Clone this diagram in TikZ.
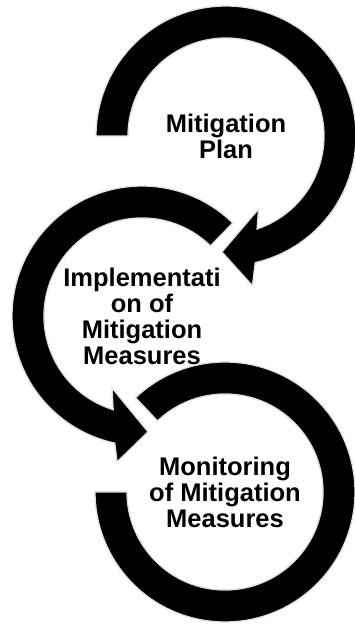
\documentclass[tikz,border=0pt]{standalone}
\usepackage{fontspec}
\setmainfont{Liberation Sans}
\usetikzlibrary{positioning}
\tikzstyle{ring} = [fill=black,
                   draw=black!12,
                   line width=1.3pt,
                   line join=miter]
\tikzstyle{stage} = [align=center,
                    inner sep=0pt,
                    font=\bfseries\fontsize{25.5}{26}\selectfont]
\tikzstyle{flow} = [x=1pt,
                   y=1pt,
                   on grid]

\begin{document}
\begin{tikzpicture}[flow]
    \useasboundingbox (0,0) rectangle (355,626);
    \node (0) at (226,490) [stage] {Mitigation\\Plan};
    \node (1) [below left =180pt and 84pt of 0] [stage] {Implementati\\on of\\Mitigation\\Measures};
    \node (2) [below right =176pt and 83pt of 1] [stage] {Monitoring\\of Mitigation\\Measures};
    \draw[ring, shift={(0.center)}]
      (180:130) arc[start angle=180, end angle=-77, radius=130]
      -- (-80:152) -- (-92:116) -- (-66:80)
      -- (-71.5:98) arc[start angle=-71.5, end angle=180, radius=98] -- cycle;
    \draw[ring, shift={(1.center)}]
      (45.7:130) arc[start angle=45.7, end angle=257.9, radius=130]
      -- (260.3:148) -- (273:116) -- (247.4:78)
      -- (252.9:98) arc[start angle=252.9, end angle=45.7, radius=98] -- cycle;
    \draw[ring, shift={(2.center)}]
      (133.5:130) arc[start angle=133.5, end angle=-180, radius=130]
      -- (180:98) arc[start angle=-180, end angle=133.5, radius=98] -- cycle;
\end{tikzpicture}
\end{document}
